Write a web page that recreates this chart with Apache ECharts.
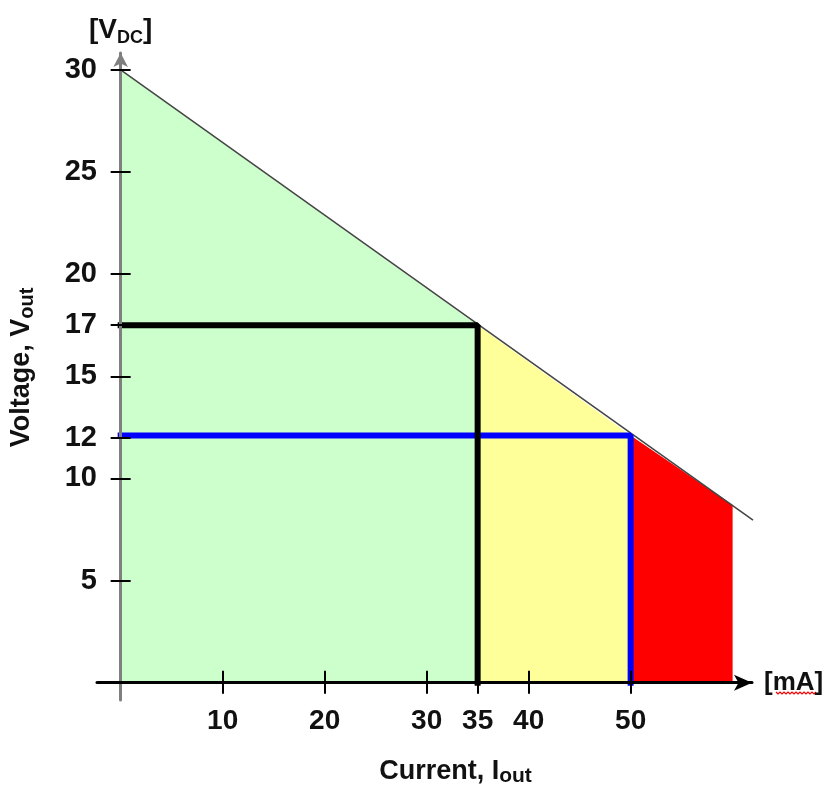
<!DOCTYPE html>
<html>
<head>
<meta charset="utf-8">
<script src="https://cdn.jsdelivr.net/npm/echarts@6/dist/echarts.min.js"></script>
<style>
  html, body { margin: 0; padding: 0; background: #fff; }
  #chart { width: 828px; height: 798px; }
</style>
</head>
<body>
<div id="chart"></div>
<script>
// tick marks and labels
var xTicks = [10, 20, 30, 35, 40, 50];
var yTicks = [5, 10, 12, 15, 17.5, 20, 25, 30];
var yTickLabels = ['5', '10', '12', '15', '17', '20', '25', '30'];

// load line (current vs voltage)
var loadLineX = [0, 62];
var loadLineY = [30, 7.96];

// zone edges along the load line: green 0-35, yellow 35-50, red 50-60
var zoneX = [0, 35, 50, 60];
var zoneY = [30, 17.5, 12.1, 8.7];

// operating limits (current, voltage)
var limitCurrent = [35, 50];
var limitVoltage = [17.5, 12.1];

var zoneColors = ['#ccffcc', '#ffff99', '#ff0000'];
var limitColors = ['#000000', '#0000ff'];

window.onload = function () {
  drawChart();
};

function drawChart() {
  var myChart = echarts.init(document.getElementById('chart'));
  var font = '"Liberation Sans", Arial, sans-serif';

  var series = [];
  // coloured zones under the load line
  for (var i = 0; i < zoneColors.length; i++) {
    series.push({
      type: 'line',
      data: [[zoneX[i], zoneY[i]], [zoneX[i + 1], zoneY[i + 1]]],
      symbol: 'none',
      lineStyle: { width: 0 },
      areaStyle: { color: zoneColors[i], opacity: 1 },
      silent: true,
      z: 2
    });
  }
  // load line
  series.push({
    type: 'line',
    data: [[loadLineX[0], loadLineY[0]], [loadLineX[1], loadLineY[1]]],
    symbol: 'none',
    clip: false,
    lineStyle: { color: '#444', width: 1.5 },
    z: 3
  });
  // limit lines, blue under black
  for (var j = limitCurrent.length - 1; j >= 0; j--) {
    series.push({
      type: 'line',
      data: [[0, limitVoltage[j]], [limitCurrent[j], limitVoltage[j]], [limitCurrent[j], 0]],
      symbol: 'none',
      lineStyle: { color: limitColors[j], width: 6, cap: 'square' },
      z: 4 + (limitCurrent.length - j)
    });
  }

  var option = {
    animation: false,
    textStyle: { fontFamily: font },
    grid: { left: 97, right: 76, top: 53, bottom: 98, containLabel: false, outerBoundsMode: 'none' },
    xAxis: [
      {
        type: 'value',
        z: 10,
        min: -2.32,
        max: 61.9,
        name: '[mA]',
        nameLocation: 'end',
        nameGap: 12,
        nameTextStyle: { fontSize: 26, fontWeight: 'bold', color: '#111', fontFamily: font, padding: [0, 0, 6, 0] },
        axisLine: {
          onZero: true, onZeroAxisIndex: 0,
          lineStyle: { color: '#000', width: 3 },
          symbol: ['none', 'arrow'], symbolSize: [12, 18]
        },
        axisTick: { show: true, inside: false, length: 11, customValues: xTicks, lineStyle: { color: '#000', width: 2 } },
        axisLabel: {
          customValues: xTicks, margin: 7,
          fontSize: 28, fontWeight: 'bold', color: '#111', fontFamily: font
        },
        splitLine: { show: false }
      },
      {
        type: 'value',
        z: 10,
        min: -2.32,
        max: 61.9,
        position: 'bottom',
        name: 'Current, I{sub|out}',
        nameLocation: 'middle',
        nameGap: 56,
        nameTextStyle: {
          fontSize: 27, fontWeight: 'bold', color: '#111', fontFamily: font,
          padding: [0, 0, 0, 62],
          rich: {
            sub: { fontSize: 21, fontWeight: 'bold', color: '#111', fontFamily: font, padding: [10, 0, 0, 0] }
          }
        },
        axisLine: { show: false, onZero: true, onZeroAxisIndex: 0 },
        axisTick: { show: true, inside: true, length: 12, customValues: xTicks, lineStyle: { color: '#000', width: 2 } },
        axisLabel: { show: false },
        splitLine: { show: false }
      }
    ],
    yAxis: [
      {
        type: 'value',
        z: 10,
        min: -0.85,
        max: 30.83,
        name: '[V{sub|DC}]',
        nameLocation: 'end',
        nameGap: 6,
        nameTextStyle: {
          fontSize: 28, fontWeight: 'bold', color: '#111', fontFamily: font,
          rich: {
            sub: { fontSize: 18, fontWeight: 'bold', color: '#111', fontFamily: font, padding: [16, 0, 0, 0] }
          }
        },
        axisLine: {
          onZero: true, onZeroAxisIndex: 0,
          lineStyle: { color: '#7f7f7f', width: 3 },
          symbol: ['none', 'arrow'], symbolSize: [11, 14]
        },
        axisTick: { show: true, inside: false, length: 10, customValues: yTicks, lineStyle: { color: '#000', width: 2 } },
        axisLabel: {
          customValues: yTicks, margin: 0,
          fontSize: 29, fontWeight: 'bold', color: '#111', fontFamily: font,
          formatter: function (v) {
            var k = yTicks.indexOf(v);
            return k >= 0 ? yTickLabels[k] : '';
          }
        },
        splitLine: { show: false }
      },
      {
        type: 'value',
        z: 10,
        min: -0.85,
        max: 30.83,
        position: 'left',
        name: 'Voltage, V{sub|out}',
        nameLocation: 'middle',
        nameGap: 60,
        nameRotate: 90,
        nameTextStyle: {
          fontSize: 27, fontWeight: 'bold', color: '#111', fontFamily: font,
          padding: [0, 0, 0, 18],
          rich: {
            sub: { fontSize: 20, fontWeight: 'bold', color: '#111', fontFamily: font, padding: [10, 0, 0, 0] }
          }
        },
        axisLine: { show: false, onZero: true, onZeroAxisIndex: 0 },
        axisTick: { show: true, inside: true, length: 10, customValues: yTicks, lineStyle: { color: '#000', width: 2 } },
        axisLabel: { show: false },
        splitLine: { show: false }
      }
    ],
    graphic: [],
    series: series
  };

  // red spell-check squiggle under "mA"
  var pts = [];
  for (var s = 0; s <= 20; s++) {
    pts.push([776 + s * 2, 692 + (s % 2 === 0 ? 0 : 2)]);
  }
  option.graphic.push({
    type: 'polyline',
    shape: { points: pts },
    style: { stroke: '#ff0000', lineWidth: 1.2, fill: null },
    z: 10
  });

  myChart.setOption(option);
}
</script>
</body>
</html>
